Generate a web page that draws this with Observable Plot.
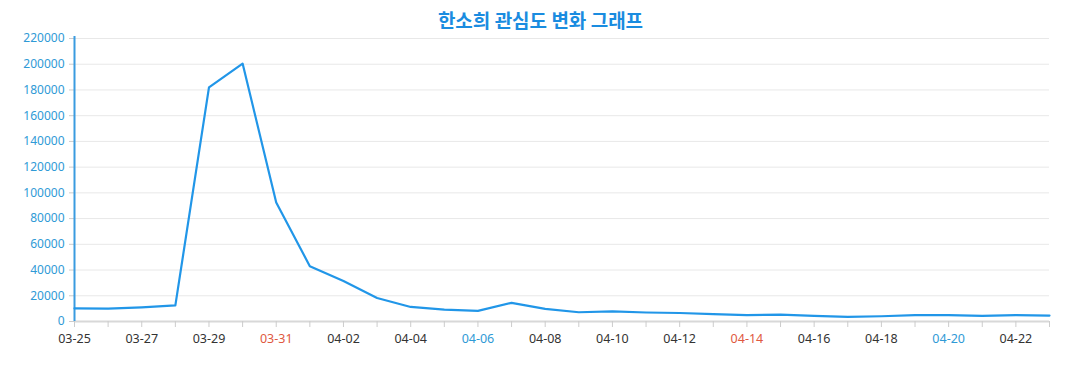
<!DOCTYPE html>
<html><head><meta charset="utf-8">
<script src="https://cdn.jsdelivr.net/npm/d3@7"></script>
<script src="https://cdn.jsdelivr.net/npm/@observablehq/plot@0.6"></script>
<style>
body{margin:0;background:#fff;font-family:"Noto Sans","Noto Sans CJK KR",sans-serif;}
#title{height:30px;line-height:40px;text-align:center;font-family:"Noto Sans CJK KR",sans-serif;font-weight:bold;font-size:19px;color:#1a8ce0;padding-left:4px;}
</style></head>
<body>
<div id="title">한소희 관심도 변화 그래프</div>
<div id="chart"></div>
<script>
const dates = ["03-25","03-26","03-27","03-28","03-29","03-30","03-31","04-01","04-02","04-03","04-04","04-05","04-06","04-07","04-08","04-09","04-10","04-11","04-12","04-13","04-14","04-15","04-16","04-17","04-18","04-19","04-20","04-21","04-22","04-23"];
const values = [10200,10000,11000,12500,182000,200500,92500,43000,31500,18300,11300,9300,8300,14500,9800,7200,7800,7000,6600,5700,4900,5300,4400,3600,4100,4900,4900,4300,4900,4600];
const yTicks = [0,20000,40000,60000,80000,100000,120000,140000,160000,180000,200000,220000];
const labelDates = ["03-25","03-27","03-29","03-31","04-02","04-04","04-06","04-08","04-10","04-12","04-14","04-16","04-18","04-20","04-22"];
const redLabels = ["03-31","04-14"];
const blueLabels = ["04-06","04-20"];

const toDate = s => new Date(Date.UTC(2024, +s.slice(0,2)-1, +s.slice(3)));
const data = dates.map((d,i) => ({date: toDate(d), value: values[i]}));
const allDays = dates.map(toDate);
const labels = labelDates.map(s => ({s, date: toDate(s), color: redLabels.includes(s) ? "#e0593f" : blueLabels.includes(s) ? "#2f9ad6" : "#333"}));

const chart = Plot.plot({
  width: 1077, height: 360,
  marginTop: 8, marginBottom: 69, marginLeft: 74, marginRight: 28,
  style: {fontFamily: '"Noto Sans", sans-serif', fontSize: "12px", background: "#fff"},
  x: {type: "utc", domain: [allDays[0], allDays[allDays.length-1]]},
  y: {domain: [0, 220000]},
  marks: [
    Plot.gridY(yTicks, {stroke: "#e8e8e8", strokeOpacity: 1}),
    Plot.axisY(yTicks, {tickSize: 5, stroke: "#ccc", tickPadding: 5, fill: "#2f9ad6", tickFormat: d => String(d), fontSize: 12, label: null}),
    Plot.ruleY([0], {stroke: "#d8d8d8", strokeWidth: 2}),
    Plot.axisX(allDays, {tickSize: 6, stroke: "#ccc", tickFormat: () => "", label: null}),
    Plot.ruleX([allDays[0]], {y1: 0, y2: 221500, stroke: "#3a9be0", strokeWidth: 2}),
    Plot.text(labels, {x: "date", text: "s", fill: "color", frameAnchor: "bottom", dy: 21, fontSize: 12.5}),
    Plot.line(data, {x: "date", y: "value", stroke: "#2196e8", strokeWidth: 2.2})
  ]
});
document.getElementById("chart").appendChild(chart);
</script>
</body></html>
